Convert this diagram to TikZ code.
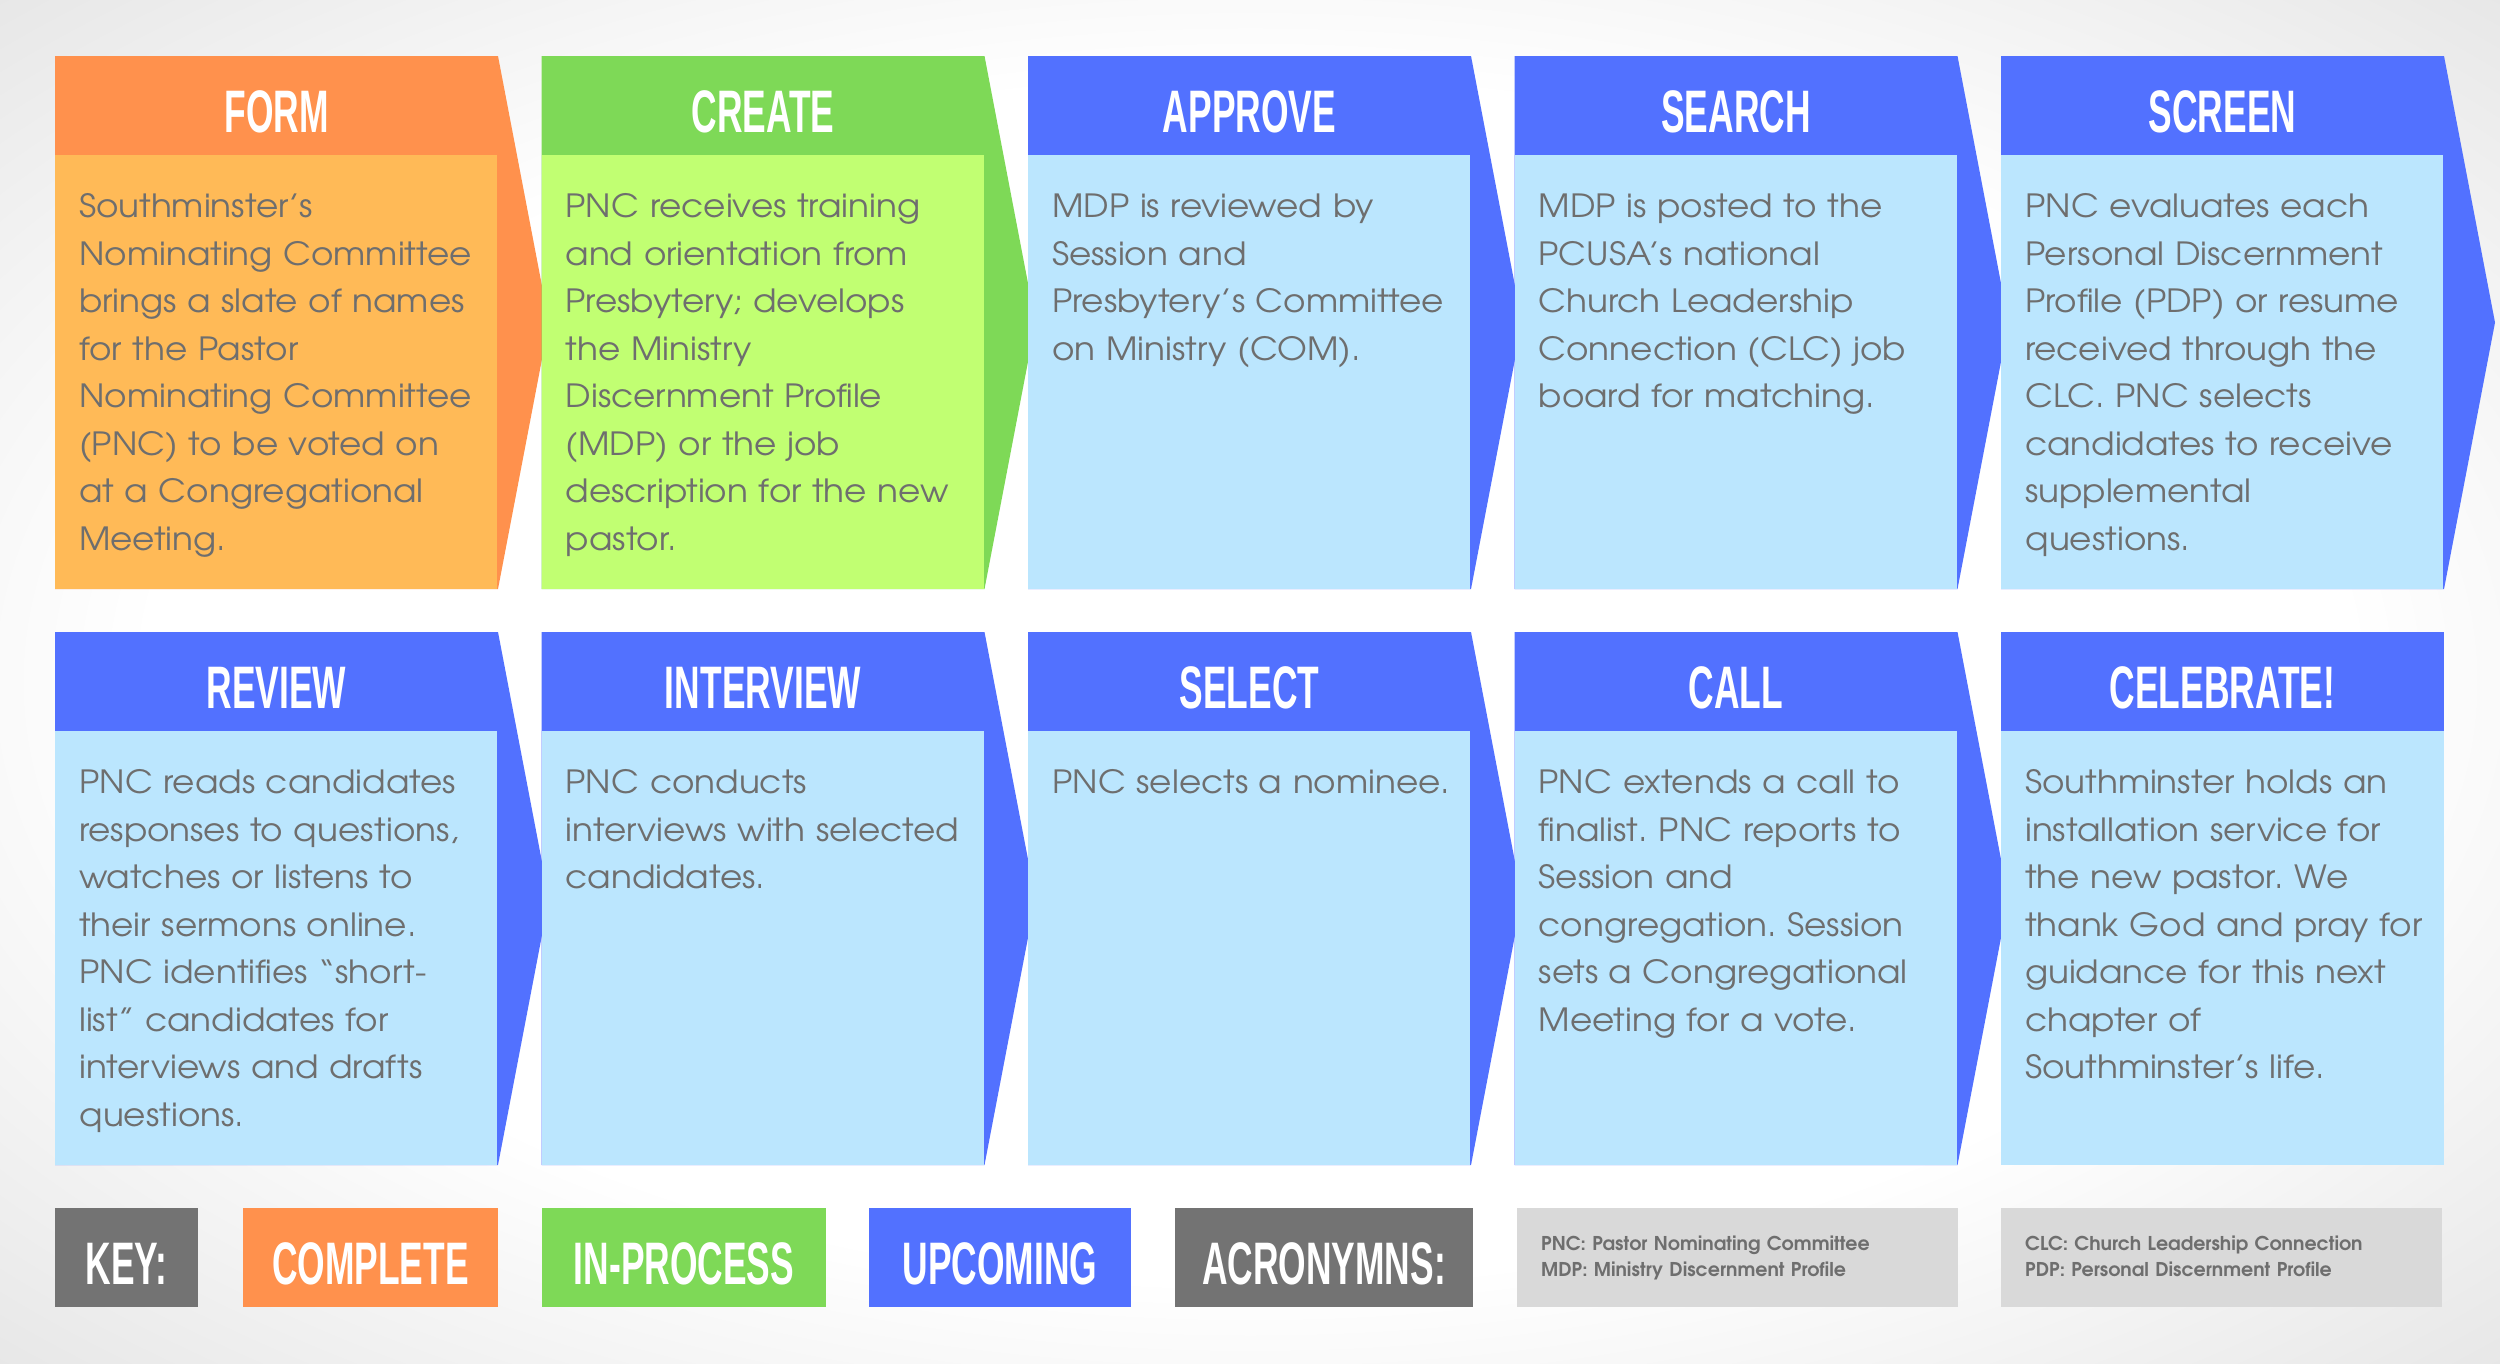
\documentclass[tikz,border=0pt]{standalone}
\usepackage{fontspec}
\usepackage{graphicx}
\newfontfamily\bodyf{TeX Gyre Adventor}[FakeStretch=1.07]
\newfontfamily\acrf{TeX Gyre Adventor}
\newfontfamily\headf{Liberation Sans}
\definecolor{orH}{HTML}{FF914D}
\definecolor{orB}{HTML}{FFBA57}
\definecolor{grH}{HTML}{7ED957}
\definecolor{grB}{HTML}{C1FF72}
\definecolor{blH}{HTML}{5271FF}
\definecolor{blB}{HTML}{BBE6FE}
\definecolor{keyG}{HTML}{737373}
\definecolor{acrG}{HTML}{D9D9D9}
\definecolor{txtG}{HTML}{6E6E6E}
\definecolor{bgG}{HTML}{A8A8A8}
\pgfdeclareradialshading{bgshade}{\pgfpoint{0bp}{0bp}}{color(0bp)=(white); color(22bp)=(white); color(71bp)=(bgG)}
\newcommand\hdrtext[1]{\scalebox{0.59}[1]{\headf\bfseries #1}}
\frenchspacing
\tikzset{
  hdr/.style={anchor=base, text=white, inner sep=0pt, font=\fontsize{60}{60}\selectfont},
  bodytxt/.style={anchor=base west, inner sep=0pt, align=left, text width=600pt, text=txtG, font=\bodyf\fontsize{32}{47.5}\selectfont\frenchspacing},
  acrtxt/.style={anchor=base west, inner sep=0pt, align=left, text width=420pt, text=txtG, font=\acrf\bfseries\fontsize{19}{26}\selectfont},
}
% #1 name, #2 x, #3 y, #4 head colour, #5 body colour, #6 title, #7 text
\newcommand\pcard[7]{%
  \fill[#4] (#2,#3) -- ++(443,0) -- ++(51,266.5) -- ++(-51,266.5) -- ++(-443,0) -- cycle;
  \fill[#5] (#2,#3+99) rectangle ++(442,434);
  \node[hdr] (#1-h) at (#2+221.5,#3+76) {\hdrtext{#6}};
  \node[bodytxt] (#1-t) at (#2+24,#3+161.5) {#7};
}
\newcommand\pcardend[7]{%
  \fill[#4] (#2,#3) rectangle ++(443,533);
  \fill[#5] (#2,#3+99) rectangle ++(443,434);
  \node[hdr] (#1-h) at (#2+221.5,#3+76) {\hdrtext{#6}};
  \node[bodytxt] (#1-t) at (#2+24,#3+161.5) {#7};
}
\begin{document}
\begin{tikzpicture}[x=1pt,y=-1pt]
\useasboundingbox (0,0) rectangle (2500,1363);
\shade[shading=bgshade] (0,0) rectangle (2500,1363);

\pcard{form}{55}{56}{orH}{orB}{FORM}{Southminster’s\\Nominating Committee\\brings a slate of names\\for the Pastor\\Nominating Committee\\(PNC) to be voted on\\at a Congregational\\Meeting.}
\pcard{create}{541.5}{56}{grH}{grB}{CREATE}{PNC receives training\\and orientation from\\Presbytery; develops\\the Ministry\\Discernment Profile\\(MDP) or the job\\description for the new\\pastor.}
\pcard{approve}{1028}{56}{blH}{blB}{APPROVE}{MDP is reviewed by\\Session and\\Presbytery’s Committee\\on Ministry (COM).}
\pcard{search}{1514.5}{56}{blH}{blB}{SEARCH}{MDP is posted to the\\PCUSA’s national\\Church Leadership\\Connection (CLC) job\\board for matching.}
\pcard{screen}{2001}{56}{blH}{blB}{SCREEN}{PNC evaluates each\\Personal Discernment\\Profile (PDP) or resume\\received through the\\CLC. PNC selects\\candidates to receive\\supplemental\\questions.}

\pcard{review}{55}{632}{blH}{blB}{REVIEW}{PNC reads candidates\\responses to questions,\\watches or listens to\\their sermons online.\\PNC identifies “short-\\list” candidates for\\interviews and drafts\\questions.}
\pcard{interview}{541.5}{632}{blH}{blB}{INTERVIEW}{PNC conducts\\interviews with selected\\candidates.}
\pcard{select}{1028}{632}{blH}{blB}{SELECT}{PNC selects a nominee.}
\pcard{call}{1514.5}{632}{blH}{blB}{CALL}{PNC extends a call to\\finalist. PNC reports to\\Session and\\congregation. Session\\sets a Congregational\\Meeting for a vote.}
\pcardend{celebrate}{2001}{632}{blH}{blB}{CELEBRATE!}{Southminster holds an\\installation service for\\the new pastor. We\\thank God and pray for\\guidance for this next\\chapter of\\Southminster’s life.}

% key row
\fill[keyG] (55,1208) rectangle (198,1307);
\node[hdr] (key) at (126.5,1284) {\hdrtext{KEY:}};
\fill[orH] (243,1208) rectangle (498,1307);
\node[hdr] (complete) at (370.5,1284) {\hdrtext{COMPLETE}};
\fill[grH] (542,1208) rectangle (826,1307);
\node[hdr] (inprocess) at (684,1284) {\hdrtext{IN-PROCESS}};
\fill[blH] (869,1208) rectangle (1131,1307);
\node[hdr] (upcoming) at (1000,1284) {\hdrtext{UPCOMING}};
\fill[keyG] (1175,1208) rectangle (1473,1307);
\node[hdr] (acronyms) at (1324,1284) {\hdrtext{ACRONYMNS:}};
\fill[acrG] (1517,1208) rectangle (1958,1307);
\node[acrtxt] (acr1) at (1541,1250) {PNC: Pastor Nominating Committee\\MDP: Ministry Discernment Profile};
\fill[acrG] (2001,1208) rectangle (2442,1307);
\node[acrtxt] (acr2) at (2025,1250) {CLC: Church Leadership Connection\\PDP: Personal Discernment Profile};
\end{tikzpicture}
\end{document}
